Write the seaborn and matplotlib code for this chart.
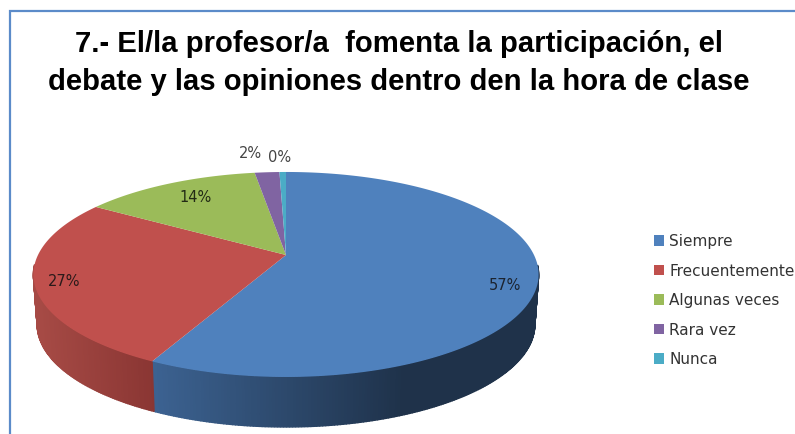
import numpy as np
import matplotlib
matplotlib.use('Agg')
import matplotlib.pyplot as plt
import seaborn as sns
from matplotlib.patches import Patch

categories = ['Siempre', 'Frecuentemente', 'Algunas veces', 'Rara vez', 'Nunca']
values = [57.4, 26.6, 13.6, 1.9, 0.5]
pct_labels = ['57%', '27%', '14%', '2%', '0%']
title_lines = ['7.- El/la profesor/a  fomenta la participación, el',
               'debate y las opiniones dentro den la hora de clase']

sns.set_theme(style='white')
plt.rcParams['font.family'] = ['DejaVu Sans']
colors = sns.color_palette(['#4F81BD', '#C0504D', '#9BBB59', '#8064A2', '#4BACC6'])

# pie geometry in picture pixels, k is the perspective squeeze
cx, cy, a, b, k = 286, 255, 248, 98.8, 0.19
depth = 50
shrink = 0.985


def rim(theta, scale=1.0, dy=0):
    # theta is clockwise from the top of the pie
    u, v = np.sin(theta), np.cos(theta)
    s = 1 / (1 + k * v)
    return cx + a * scale * u * s, cy - b * v * s + dy


fig = plt.figure(figsize=(7.95, 4.34), dpi=100)
ax = fig.add_axes([0, 0, 1, 1])
ax.set_xlim(0, 795)
ax.set_ylim(434, 0)
ax.axis('off')

edges = np.cumsum([0] + values) / sum(values) * 2 * np.pi

# side wall, front half only, each slice shaded along x
for i, col in enumerate(colors):
    steps = np.arange(edges[i], edges[i + 1], 0.01)
    steps = np.append(steps, edges[i + 1])
    for t0, t1 in zip(steps[:-1], steps[1:]):
        if np.cos((t0 + t1) / 2) > -0.1:
            continue
        x0, y0 = rim(t0)
        x1, y1 = rim(t1)
        x2, y2 = rim(t1, shrink, depth)
        x3, y3 = rim(t0, shrink, depth)
        if i == 0:
            f = np.clip((x0 - 155) / 250, 0, 1)
            shade = np.array([0.235, 0.385, 0.57]) * (1 - f) + np.array([0.12, 0.195, 0.29]) * f
        else:
            f = np.clip((x0 - 40) / 115, 0, 1)
            shade = np.array([0.65, 0.29, 0.27]) * (1 - f) + np.array([0.54, 0.21, 0.2]) * f
        ax.fill([x0, x1, x2, x3], [y0, y1, y2, y3], color=shade, lw=1.0, zorder=1)

# top face
for i, col in enumerate(colors):
    th = np.linspace(edges[i], edges[i + 1], 200)
    xs, ys = rim(th)
    ax.fill(np.r_[cx, xs], np.r_[cy, ys], color=col, lw=0, zorder=2)

# percent labels
label_x = [505, 64, 196, 250, 280]
label_y = [285, 282, 197, 154, 158]
label_col = ['#1c2430', '#2a1a1a', '#222a15', '#444444', '#444444']
for lx, ly, txt, tc in zip(label_x, label_y, pct_labels, label_col):
    ax.text(lx, ly, txt, ha='center', va='center', fontsize=10.5, color=tc, zorder=3)

# legend
handles = [Patch(facecolor=c, edgecolor='none') for c in colors]
ax.legend(handles, categories, loc='upper left', bbox_to_anchor=(654 / 795, 1 - 234 / 434),
          frameon=False, fontsize=11, handlelength=0.67, handleheight=0.67,
          handletextpad=0.33, labelspacing=0.95, borderpad=0, borderaxespad=0,
          labelcolor='#333333')

# title
ax.text(399, 52, title_lines[0], ha='center', va='baseline', fontsize=21.1,
        fontweight='bold', family='Liberation Sans', color='black')
ax.text(399, 90, title_lines[1], ha='center', va='baseline', fontsize=21.1,
        fontweight='bold', family='Liberation Sans', color='black')

# chart border, cut off by the screenshot on the right and bottom
ax.plot([10, 10, 795], [434, 11, 11], color='#5B8BC9', lw=1.6, solid_joinstyle='miter')

fig.savefig('out.png', dpi=100)
